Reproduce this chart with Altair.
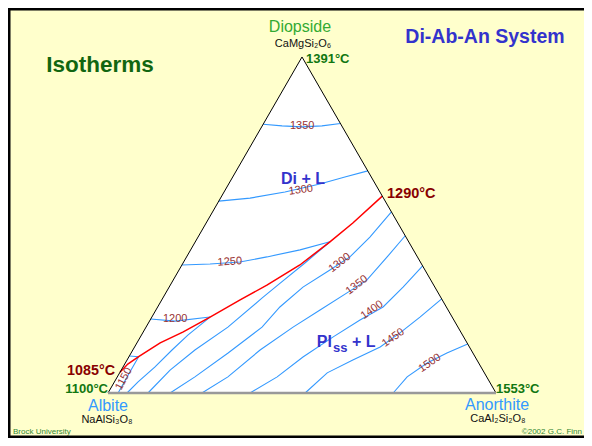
import math
import altair as alt
import pandas as pd

# ---- data: compositions as (Di wt%, An wt%); Ab = 100 - Di - An ----
cotectic = [(6.2, 0), (8.6, 0.8), (10.8, 2.5), (14.9, 6.0), (18.2, 10.3), (22.6, 15.0),
            (27.7, 20.2), (32.1, 24.9), (38.1, 30.4), (45.0, 34.7), (50.6, 37.8), (58.6, 41.4)]

# isotherms in the diopside + liquid field
di_1350 = [(80.0, 0), (79.5, 5.1), (79.2, 10.4), (79.5, 15.4), (80.2, 19.8)]
di_1300 = [(57.1, 0), (58.0, 7.6), (59.8, 15.7), (62.2, 23.5), (64.3, 28.9), (66.1, 33.9)]
di_1250 = [(38.1, 0), (38.4, 7.1), (39.0, 14.5), (40.5, 20.7), (42.6, 28.2), (45.0, 34.7)]
di_1200 = [(22.0, 0), (21.4, 6.6), (22.6, 15.0)]
di_1150 = [(11.0, 0), (10.8, 2.5)]

# isotherms in the plagioclase + liquid field
pl_1150 = [(10.8, 2.5), (6.2, 2.5), (0, 2.6)]
pl_1200 = [(22.6, 15.0), (17.3, 12.0), (12.8, 10.1), (7.7, 8.2), (3.3, 6.1), (0, 4.9)]
pl_1250 = [(45.0, 34.7), (38.7, 31.4), (32.1, 27.7), (28.3, 25.6), (19.6, 21.1), (12.8, 16.0),
           (6.8, 12.6), (0, 10.3)]
pl_1300 = [(53.9, 46.1), (46.4, 44.3), (40.5, 42.1), (36.6, 38.9), (31.5, 34.5), (25.6, 31.5),
           (19.6, 29.9), (11.9, 25.0), (4.8, 20.0), (0, 16.0)]
pl_1350 = [(46.8, 53.2), (40.5, 51.7), (33.6, 49.9), (29.8, 46.7), (24.7, 42.3), (19.6, 37.9),
           (12.8, 32.8), (4.8, 28.5), (0, 24.2)]
pl_1400 = [(37.8, 62.2), (31.5, 60.3), (25.6, 58.1), (21.7, 54.1), (16.7, 49.7), (10.7, 44.9),
           (4.8, 41.2), (0, 36.6)]
pl_1450 = [(28.0, 72.0), (22.6, 69.1), (17.9, 66.3), (13.7, 63.3), (9.8, 58.2), (6.0, 53.5),
           (0, 50.8)]
pl_1500 = [(14.6, 85.4), (11.9, 81.4), (8.9, 77.8), (4.8, 74.7), (0, 73.5)]

isotherms = {
    "di1350": di_1350, "di1300": di_1300, "di1250": di_1250, "di1200": di_1200,
    "di1150": di_1150, "pl1150": pl_1150, "pl1200": pl_1200, "pl1250": pl_1250,
    "pl1300": pl_1300, "pl1350": pl_1350, "pl1400": pl_1400, "pl1450": pl_1450,
    "pl1500": pl_1500,
}

# isotherm labels: (text, Di, An, angle)
iso_labels = [
    ("1350", 79.5, 10.3, 0), ("1300", 60.4, 19.5, 352), ("1250", 39.0, 11.9, 356),
    ("1200", 22.0, 6.3, 0), ("1150", 4.2, 2.0, 298),
    ("1300", 38.7, 40.4, 322), ("1350", 32.1, 48.1, 323), ("1400", 24.7, 55.7, 325),
    ("1450", 16.4, 65.3, 325), ("1500", 8.9, 78.5, 326),
]

# triangle vertices (Di, An)
ALBITE = (0, 0)
ANORTHITE = (0, 100)
DIOPSIDE = (100, 0)

S3 = math.sqrt(3) / 2


def cart(di, an):
    return an + di / 2.0, di * S3


xs = alt.Scale(domain=[-25.7732, 122.6804], nice=False, zero=False)
ys = alt.Scale(domain=[-11.5979, 99.2268], nice=False, zero=False)


def X(f="X"):
    return alt.X(f"{f}:Q", scale=xs, axis=None)


def Y(f="Y"):
    return alt.Y(f"{f}:Q", scale=ys, axis=None)


# ---- triangle ----
tri_fill = pd.DataFrame([{"X": cart(*p)[0], "Y": cart(*p)[1], "Y0": 0}
                         for p in [ALBITE, DIOPSIDE, ANORTHITE]])
fill_layer = alt.Chart(tri_fill).mark_area(color="white", interpolate="linear", opacity=1).encode(
    x=X(), y=Y(), y2=alt.Y2("Y0:Q"))

side_rows = []
for i, (a, b) in enumerate([(ALBITE, DIOPSIDE), (DIOPSIDE, ANORTHITE)]):
    for k, p in enumerate((a, b)):
        x, y = cart(*p)
        side_rows.append({"X": x, "Y": y, "side": i, "o": k})
sides = alt.Chart(pd.DataFrame(side_rows)).mark_line(color="black", strokeWidth=1).encode(
    x=X(), y=Y(), detail="side:N", order="o:Q")

base_df = pd.DataFrame([{"X": cart(*ALBITE)[0], "Y": cart(*ALBITE)[1], "o": 0},
                        {"X": cart(*ANORTHITE)[0], "Y": cart(*ANORTHITE)[1], "o": 1}])
base = alt.Chart(base_df).mark_line(color="#999999", strokeWidth=2.5).encode(x=X(), y=Y(), order="o:Q")

# ---- isotherm lines ----
rows = []
for name, pts in isotherms.items():
    for k, (di, an) in enumerate(pts):
        x, y = cart(di, an)
        rows.append({"X": x, "Y": y, "line": name, "o": k})
iso = alt.Chart(pd.DataFrame(rows)).mark_line(color="#3399FF", strokeWidth=1.1).encode(
    x=X(), y=Y(), detail="line:N", order="o:Q")

crow = []
for k, (di, an) in enumerate(cotectic):
    x, y = cart(di, an)
    crow.append({"X": x, "Y": y, "o": k})
cot = alt.Chart(pd.DataFrame(crow)).mark_line(color="#FF0000", strokeWidth=1.5).encode(
    x=X(), y=Y(), order="o:Q")

# ---- isotherm labels ----
lrows = []
for t, di, an, ang in iso_labels:
    x, y = cart(di, an)
    lrows.append({"X": x, "Y": y, "t": t, "a": ang})
lab = alt.Chart(pd.DataFrame(lrows)).mark_text(
    color="#993333", fontSize=11, font="Liberation Sans", baseline="middle", align="center").encode(
    x=X(), y=Y(), text="t:N", angle=alt.Angle("a:Q", scale=None))

# ---- annotation text (X, Y in triangle plot units) ----
FONT = "Liberation Sans"


def txt(items, color, size, bold=False, align="center"):
    df = pd.DataFrame(items, columns=["t", "X", "Y"])
    return alt.Chart(df).mark_text(color=color, fontSize=size, font=FONT,
                                   fontWeight="bold" if bold else "normal",
                                   align=align, baseline="middle").encode(x=X(), y=Y(), text="t:N")


texts = [
    txt([("Isotherms", -2.06, 84.54)], "#116611", 22.5, True),
    txt([("Di-Ab-An System", 97.16, 91.75)], "#3333CC", 19.5, True),
    txt([("Diopside", 49.48, 94.33)], "#33AA33", 16),
    txt([("Albite", 0, -3.35), ("Anorthite", 100.26, -3.09)], "#3399FF", 16),
    txt([("CaMgSi₂O₆", 50.26, 89.95), ("NaAlSi₃O₈", -0.26, -6.96), ("CaAl₂Si₂O₈", 100.5, -6.70)],
        "#111111", 11),
    txt([("1391°C", 51.03, 86.08)], "#117711", 13, True, "left"),
    txt([("1553°C", 100.0, 1.03)], "#117711", 13, True, "left"),
    txt([("1100°C", 0.0, 1.03)], "#117711", 13, True, "right"),
    txt([("1290°C", 71.91, 51.29)], "#880000", 14.5, True, "left"),
    txt([("1085°C", 1.8, 5.67)], "#880000", 14.3, True, "right"),
    txt([("Di + L", 50.26, 55.15)], "#3333CC", 16, True),
    txt([("Pl", 57.73, 13.14)], "#3333CC", 16, True, "right"),
    txt([("ss", 57.99, 11.6)], "#3333CC", 13, True, "left"),
    txt([("+ L", 62.9, 13.14)], "#3333CC", 16, True, "left"),
    txt([("Brock University", -24.48, -10.05)], "#338833", 8, False, "left"),
    txt([("©2002 G.C. Finn", 122.16, -10.05)], "#338833", 8, False, "right"),
]

# ---- frame (left, top, bottom) ----
frame_df = pd.DataFrame([
    {"X": -25.7732, "Y": -11.5979, "X2": -25.7732, "Y2": 99.2268},
    {"X": -25.7732, "Y": 99.2268, "X2": 122.6804, "Y2": 99.2268},
    {"X": -25.7732, "Y": -11.5979, "X2": 122.6804, "Y2": -11.5979},
])
frame = alt.Chart(frame_df).mark_rule(color="black", strokeWidth=5).encode(
    x=X(), y=Y(), x2="X2:Q", y2="Y2:Q")

chart = alt.layer(fill_layer, iso, cot, sides, base, lab, *texts, frame).properties(
    width=576, height=430, padding=0, autosize="none", background="#FFFFCC"
).configure_view(stroke=None, fill="#FFFFCC")

chart.save("out.html", embed_options={"renderer": "svg", "actions": False})
